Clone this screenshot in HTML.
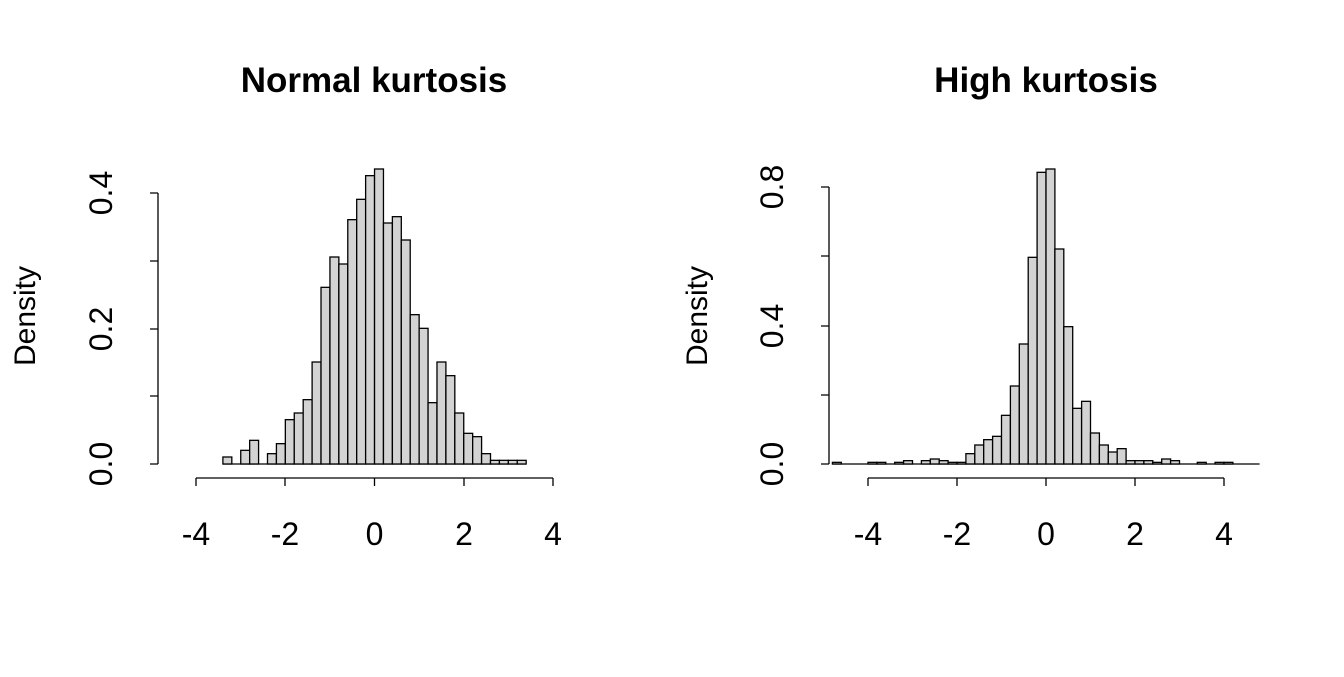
<!DOCTYPE html>
<html><head><style>body{margin:0;background:#fff}svg text{font-family:"Liberation Sans",Arial,sans-serif}</style></head><body>
<svg id="s" width="1344" height="672" xmlns="http://www.w3.org/2000/svg">
<text x="374" y="92" font-size="35" font-weight="bold" text-anchor="middle">Normal kurtosis</text>
<text x="1046" y="92" font-size="35" font-weight="bold" text-anchor="middle">High kurtosis</text>
<text transform="translate(35,316) rotate(-90)" font-size="30" text-anchor="middle">Density</text>
<text transform="translate(707,316) rotate(-90)" font-size="30" text-anchor="middle">Density</text>
<g stroke="#000" stroke-width="1.3" fill="none">
<path d="M158,193V464M158,464h-8M158,396h-8M158,329h-8M158,261h-8M158,193h-8"/>
<path d="M196,478H553M196,478v8M285,478v8M374.5,478v8M464,478v8M553,478v8"/>
<path d="M829,187V464M829,464h-8M829,395h-8M829,326h-8M829,256h-8M829,187h-8"/>
<path d="M868,478H1224M868,478v8M957,478v8M1046,478v8M1135,478v8M1224,478v8"/>
</g>
<g font-size="32" text-anchor="middle">
<text transform="translate(112,464) rotate(-90)">0.0</text>
<text transform="translate(112,329) rotate(-90)">0.2</text>
<text transform="translate(112,193) rotate(-90)">0.4</text>
<text transform="translate(783,464) rotate(-90)">0.0</text>
<text transform="translate(783,326) rotate(-90)">0.4</text>
<text transform="translate(783,187) rotate(-90)">0.8</text>
<text x="196" y="545">-4</text><text x="285" y="545">-2</text><text x="374.5" y="545">0</text><text x="464" y="545">2</text><text x="553" y="545">4</text>
<text x="868" y="545">-4</text><text x="957" y="545">-2</text><text x="1046" y="545">0</text><text x="1135" y="545">2</text><text x="1224" y="545">4</text>
</g>
<g id="bars" fill="#d3d3d3" stroke="#000" stroke-width="1.3"></g>
</svg>
<script>
var g=document.getElementById('bars'),ns='http://www.w3.org/2000/svg';
function draw(x0,w,tops){var base=160+912/3;
 var l=document.createElementNS(ns,'path');l.setAttribute('d','M'+x0+','+base+'H'+(x0+w*tops.length));l.setAttribute('fill','none');g.appendChild(l);
 tops.forEach(function(t,i){if(t>=912)return;var y=160+t/3;var r=document.createElementNS(ns,'rect');
 r.setAttribute('x',x0+w*i);r.setAttribute('y',y);r.setAttribute('width',w);r.setAttribute('height',base-y);g.appendChild(r);});}
draw(222.9,8.92,[891,912,871,841,912,881,851,779,759,719,606,382,291,312,179,118,47,27,189,170,240,464,505,728,606,647,759,820,830,881,901,901,901,901]);
draw(832.4,8.9,[907,912,912,912,907,907,912,907,902,912,902,897,902,907,907,881,855,839,829,766,678,552,292,37,27,267,500,745,724,819,855,876,866,902,902,902,907,897,902,912,912,907,912,907,907,912,912,912]);
</script>
</body></html>
